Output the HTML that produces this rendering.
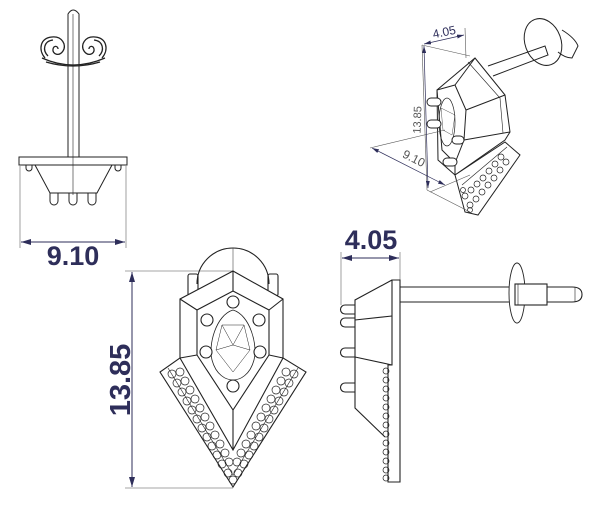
<!DOCTYPE html>
<html><head><meta charset="utf-8"><style>
html,body{margin:0;padding:0;background:#fff;}
svg{display:block;}
text{font-family:"Liberation Sans",sans-serif;}
</style></head><body>
<svg width="600" height="508" viewBox="0 0 600 508" xmlns="http://www.w3.org/2000/svg">
<defs>
<marker id="ar" markerWidth="10" markerHeight="6" refX="10" refY="3" orient="auto-start-reverse" markerUnits="userSpaceOnUse">
<path d="M0,0 L10,3 L0,6 z" fill="#2e2e5a"/></marker>
<marker id="as" markerWidth="7" markerHeight="4" refX="7" refY="2" orient="auto-start-reverse" markerUnits="userSpaceOnUse">
<path d="M0,0 L7,2 L0,4 z" fill="#2e2e5a"/></marker>
</defs>
<g fill="none" stroke="#222" stroke-width="1">
<!-- TOP LEFT VIEW -->
<path d="M68,157 L68,14 Q73,6 79,14 L79,157"/>
<line x1="73" y1="14" x2="73" y2="195" stroke-width="0.6"/>
<g stroke-width="1.3">
<path d="M45,58 C38,50 40,38 52,37 C62,36 67,45 63,51 C59,57 52,54 53,49 C54,45 58,46 58,49"/>
<path d="M102,58 C109,50 107,38 95,37 C85,36 80,45 84,51 C88,57 95,54 94,49 C93,45 89,46 89,49"/>
<path d="M48,56 C42,50 44,41 53,40 M99,56 C105,50 103,41 94,40"/>
<path d="M42,58 Q73,72 105,58"/><path d="M46,62 Q73,70 100,62"/>
</g>
<rect x="19" y="157" width="108" height="8"/>
<path d="M35,165 L50,193 L97,193 L112,165"/>
<path d="M26,165 v3 a3,3 0 0 0 6,0 v-3 M115,165 v3 a3,3 0 0 0 6,0 v-3"/>
<path d="M50,193 v8 a4,4 0 0 0 8,0 v-8 M69,193 v8 a4,4 0 0 0 8,0 v-8 M88,193 v8 a4,4 0 0 0 8,0 v-8"/>
</g>
<g stroke="#888" stroke-width="0.8"><line x1="20" y1="166" x2="20" y2="248"/><line x1="126" y1="166" x2="126" y2="248"/></g>
<line x1="21" y1="242" x2="125" y2="242" stroke="#2e2e5a" stroke-width="1" marker-start="url(#ar)" marker-end="url(#ar)"/>
<text x="73" y="265" font-size="27" font-weight="bold" fill="#2e2e5a" text-anchor="middle">9.10</text>

<!-- FRONT VIEW -->
<g stroke="#888" stroke-width="0.8"><line x1="125" y1="271" x2="233" y2="271"/><line x1="125" y1="488" x2="233" y2="488"/></g>
<line x1="132" y1="272" x2="132" y2="487" stroke="#2e2e5a" stroke-width="1" marker-start="url(#ar)" marker-end="url(#ar)"/>
<text transform="translate(130,380) rotate(-90)" font-size="29" font-weight="bold" fill="#2e2e5a" text-anchor="middle">13.85</text>
<g fill="none" stroke="#222" stroke-width="1.1">
<path d="M197,284 A36,36 0 0 1 269,284"/>
<line x1="233" y1="248" x2="233" y2="487" stroke-width="0.5"/>
<rect x="188" y="274" width="10" height="22" rx="2"/><rect x="268" y="274" width="10" height="22" rx="2"/>
<path d="M233,271 L283,299 L283,358 L306,372 L233,487 L160,372 L180,358 L180,299 Z" fill="#fff"/>
<path d="M180,299 L197,310 M283,299 L269,310 M180,358 L197,355 M283,358 L269,355 M233,271 L233,291"/>
<path d="M233,291 L269,310 L269,355 L233,410 L197,355 L197,310 Z"/>
<path d="M180,358 L233,450 L283,358 M233,410 L233,450"/>
<path d="M168,368 L233,475 L298,368" stroke-width="0.6"/>
<path d="M233,310 C250,315 258,345 254,360 C250,375 240,380 233,380 C226,380 216,375 212,360 C208,345 216,315 233,310 Z" stroke-width="0.8"/>
<path d="M222,325 L244,325 L250,350 L233,372 L216,350 Z M222,325 L233,345 L244,325 M216,350 L233,345 L250,350" stroke-width="0.5"/>
<g fill="#fff"><circle cx="233" cy="302" r="6"/><circle cx="207" cy="320" r="6"/><circle cx="259" cy="320" r="6"/><circle cx="206" cy="352" r="6"/><circle cx="260" cy="352" r="6"/><circle cx="233" cy="386" r="6"/></g>
<g stroke-width="0.7">
<circle cx="172" cy="374" r="4"/><circle cx="180" cy="372" r="4"/><circle cx="177" cy="383" r="4"/><circle cx="185" cy="381" r="4"/><circle cx="182" cy="392" r="4"/><circle cx="190" cy="390" r="4"/><circle cx="187" cy="401" r="4"/><circle cx="195" cy="399" r="4"/><circle cx="192" cy="410" r="4"/><circle cx="200" cy="408" r="4"/><circle cx="197" cy="419" r="4"/><circle cx="205" cy="417" r="4"/><circle cx="202" cy="428" r="4"/><circle cx="210" cy="426" r="4"/><circle cx="207" cy="437" r="4"/><circle cx="215" cy="435" r="4"/><circle cx="212" cy="446" r="4"/><circle cx="220" cy="444" r="4"/><circle cx="217" cy="455" r="4"/><circle cx="225" cy="453" r="4"/><circle cx="222" cy="464" r="4"/><circle cx="229" cy="462" r="4"/><circle cx="228" cy="473" r="4"/><circle cx="233" cy="480" r="4"/>
<circle cx="294" cy="374" r="4"/><circle cx="286" cy="372" r="4"/><circle cx="289" cy="383" r="4"/><circle cx="281" cy="381" r="4"/><circle cx="284" cy="392" r="4"/><circle cx="276" cy="390" r="4"/><circle cx="279" cy="401" r="4"/><circle cx="271" cy="399" r="4"/><circle cx="274" cy="410" r="4"/><circle cx="266" cy="408" r="4"/><circle cx="269" cy="419" r="4"/><circle cx="261" cy="417" r="4"/><circle cx="264" cy="428" r="4"/><circle cx="256" cy="426" r="4"/><circle cx="259" cy="437" r="4"/><circle cx="251" cy="435" r="4"/><circle cx="254" cy="446" r="4"/><circle cx="246" cy="444" r="4"/><circle cx="249" cy="455" r="4"/><circle cx="241" cy="453" r="4"/><circle cx="244" cy="464" r="4"/><circle cx="237" cy="462" r="4"/><circle cx="238" cy="473" r="4"/>
</g>
</g>

<!-- SIDE VIEW -->
<g stroke="#888" stroke-width="0.8"><line x1="341" y1="252" x2="341" y2="305"/><line x1="400" y1="252" x2="400" y2="280"/></g>
<line x1="342" y1="258" x2="399" y2="258" stroke="#2e2e5a" stroke-width="1" marker-start="url(#ar)" marker-end="url(#ar)"/>
<text x="371" y="249" font-size="27" font-weight="bold" fill="#2e2e5a" text-anchor="middle">4.05</text>
<g fill="none" stroke="#222" stroke-width="1.1">
<path d="M400,287 L572,287 Q582,287 582,294.5 Q582,302 572,302 L400,302"/>
<line x1="575" y1="287" x2="575" y2="302" stroke-width="0.6"/>
<ellipse cx="517" cy="293" rx="8" ry="30" fill="#fff" stroke-width="0.9"/>
<rect x="515" y="284" width="32" height="21" fill="#fff"/>
<line x1="518" y1="284" x2="518" y2="305" stroke-width="0.6"/>
<path d="M392,280 L400,280 L400,482 L388,482 L388,365 L392,365 Z"/>
<path d="M392,280 L355,300 L355,408 L385,437 M355,320 L392,316 M355,357 L392,365"/>
<path d="M355,305 h-10 a4.5,4.5 0 0 0 0,9 h10 M355,318 h-10 a4.5,4.5 0 0 0 0,9 h10 M355,348 h-10 a4.5,4.5 0 0 0 0,9 h10 M355,383 h-10 a4.5,4.5 0 0 0 0,9 h10"/>
<g stroke-width="0.7"><circle cx="386" cy="371" r="3"/><circle cx="386" cy="380" r="3"/><circle cx="386" cy="389" r="3"/><circle cx="386" cy="398" r="3"/><circle cx="386" cy="407" r="3"/><circle cx="386" cy="416" r="3"/><circle cx="386" cy="425" r="3"/><circle cx="386" cy="434" r="3"/><circle cx="386" cy="443" r="3"/><circle cx="386" cy="452" r="3"/><circle cx="386" cy="461" r="3"/><circle cx="386" cy="470" r="3"/><circle cx="386" cy="478" r="3"/></g>
</g>

<!-- ISO VIEW -->
<g fill="none" stroke="#222" stroke-width="1">
<ellipse cx="543" cy="42" rx="18" ry="24" transform="rotate(-20 543 42)" fill="#fff"/>
<path d="M562,30 Q575,38 578,46 L572,58 Q565,58 558,52"/>
<path d="M488,66 L545,46 L548,55 L493,76"/>
<!-- body back outline -->
<path d="M475,58 L505,95 L510,132 L505,140 L455,175 L438,160 L437,90 Z" fill="#fff"/>
<!-- front face hex -->
<path d="M437,90 L455,85 L466,110 L464,140 L455,163 L442,150 Z"/>
<path d="M475,58 L455,85 M505,95 L466,110 M510,132 L464,140 M455,175 L455,163"/>
<path d="M468,62 L500,98 L503,133" stroke-width="0.6"/>
<ellipse cx="447" cy="122" rx="8" ry="24" stroke-width="0.7"/>
<path d="M441,108 L455,115 L452,135 L443,130 Z" stroke-width="0.4"/>
<!-- pave arm -->
<path d="M455,175 L505,142 L520,155 L478,215 L465,212 Z" fill="#fff"/>
<path d="M462,185 L507,147" stroke-width="0.6"/>
<g stroke-width="0.7"><circle cx="465" cy="196" r="3"/><circle cx="471" cy="190" r="3"/><circle cx="477" cy="184" r="3"/><circle cx="483" cy="178" r="3"/><circle cx="489" cy="171" r="3"/><circle cx="495" cy="164" r="3"/><circle cx="501" cy="157" r="3"/><circle cx="470" cy="205" r="3"/><circle cx="476" cy="199" r="3"/><circle cx="482" cy="192" r="3"/><circle cx="488" cy="185" r="3"/><circle cx="494" cy="178" r="3"/><circle cx="500" cy="170" r="3"/><circle cx="506" cy="162" r="3"/><circle cx="470" cy="210" r="2.5"/><circle cx="463" cy="190" r="2.5"/></g>
<g fill="#fff"><rect x="427" y="98" width="14" height="8" rx="4"/><rect x="427" y="120" width="14" height="8" rx="4"/><rect x="452" y="136" width="12" height="8" rx="4"/><rect x="443" y="158" width="14" height="8" rx="4"/></g>
</g>
<g stroke="#555" stroke-width="0.6" fill="none">
<line x1="422" y1="45" x2="427" y2="190"/>
<line x1="465" y1="28" x2="466" y2="58"/>
<line x1="422" y1="45" x2="470" y2="56"/>
<line x1="370" y1="148" x2="445" y2="130"/>
<line x1="430" y1="192" x2="470" y2="175"/>
<line x1="427" y1="190" x2="470" y2="212"/>
</g>
<line x1="424" y1="44" x2="464" y2="35" stroke="#2e2e5a" stroke-width="0.7" marker-start="url(#as)" marker-end="url(#as)"/>
<line x1="424" y1="46" x2="428" y2="188" stroke="#2e2e5a" stroke-width="0.7" marker-start="url(#as)" marker-end="url(#as)"/>
<line x1="372" y1="148" x2="445" y2="185" stroke="#2e2e5a" stroke-width="0.7" marker-start="url(#as)" marker-end="url(#as)"/>
<text x="445" y="36" font-size="12" fill="#2e2e5a" text-anchor="middle" transform="rotate(-12 445 36)">4.05</text>
<text transform="translate(421,120) rotate(-88)" font-size="11" fill="#555" text-anchor="middle">13.85</text>
<text transform="translate(412,162) rotate(27)" font-size="12" fill="#555" text-anchor="middle">9.10</text>
</svg>
</body></html>
